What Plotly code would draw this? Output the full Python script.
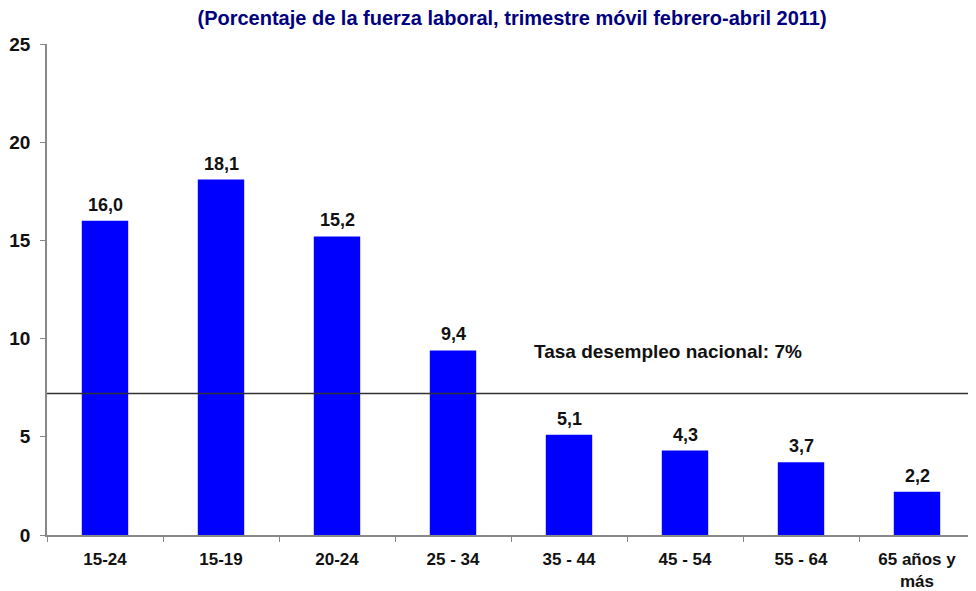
import plotly.graph_objects as go

categories = ["15-24", "15-19", "20-24", "25 - 34", "35 - 44", "45 - 54", "55 - 64", "65 años y<br>más"]
values = [16.0, 18.1, 15.2, 9.4, 5.1, 4.3, 3.7, 2.2]
labels = ["16,0", "18,1", "15,2", "9,4", "5,1", "4,3", "3,7", "2,2"]
national_rate = 7.2
y_ticks = [0, 5, 10, 15, 20, 25]

FONT = "Liberation Sans, Arial, sans-serif"

fig = go.Figure()
fig.add_trace(go.Bar(
    x=categories, y=values,
    marker=dict(color="#0000FF", line=dict(width=0)),
    width=0.4,
))
for c, v, t in zip(categories, values, labels):
    fig.add_annotation(x=c, y=v, xref="x", yref="y", text="<b>" + t + "</b>",
                       showarrow=False, yanchor="bottom", yshift=4,
                       font=dict(family=FONT, size=18, color="#111111"))
fig.add_shape(type="line", xref="paper", yref="y", x0=0, x1=1, y0=national_rate, y1=national_rate,
              line=dict(color="#333333", width=1.5))
fig.add_annotation(x=4.85, y=national_rate, xref="x", yref="y", yshift=42,
                   text="<b>Tasa desempleo nacional: 7%</b>", showarrow=False,
                   font=dict(family=FONT, size=19, color="#111111"))
fig.update_layout(
    width=968, height=583,
    margin=dict(l=39, r=1, t=36, b=56, autoexpand=False),
    paper_bgcolor="white", plot_bgcolor="white",
    showlegend=False,
    title=dict(text="<b>(Porcentaje de la fuerza laboral, trimestre móvil febrero-abril 2011)</b>",
               x=0.5207, xanchor="center", y=0.983, yanchor="middle",
               font=dict(family=FONT, size=20, color="#000080")),
)
fig.update_xaxes(
    tickvals=categories, ticktext=["<b>" + c + "</b>" for c in categories],
    showline=True, linecolor="#888888", linewidth=1.5,
    ticks="outside", tickcolor="#888888", ticklen=5, tickson="boundaries",
    ticklabelstandoff=8,
    tickfont=dict(family=FONT, size=17, color="#111111"),
    showgrid=False, automargin=False,
)
fig.update_yaxes(
    range=[0, 25], tickvals=y_ticks, ticktext=["<b>%d</b>" % t for t in y_ticks],
    showline=True, linecolor="#888888", linewidth=1.5,
    ticks="outside", tickcolor="#888888", ticklen=5,
    ticklabelstandoff=6,
    tickfont=dict(family=FONT, size=19, color="#111111"),
    showgrid=False, zeroline=False, automargin=False,
)
fig.write_html("out.html")
